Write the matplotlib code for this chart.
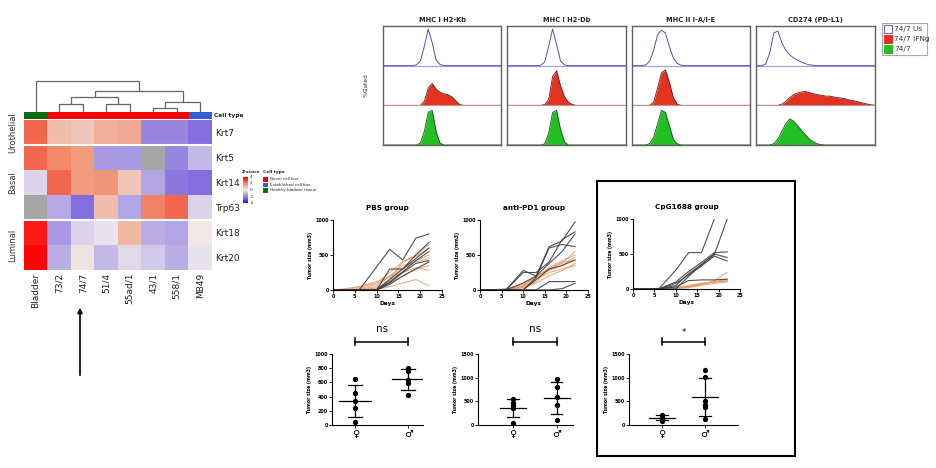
import numpy as np
import matplotlib
matplotlib.use("Agg")
import matplotlib.pyplot as plt
from matplotlib.colors import LinearSegmentedColormap
from matplotlib.patches import Rectangle

W, H = 936, 468

# ---------------- heatmap data ----------------
genes = ["Krt7", "Krt5", "Krt14", "Trp63", "Krt18", "Krt20"]
samples = ["Bladder", "73/2", "74/7", "51/4", "55ad/1", "43/1", "558/1", "MB49"]
sample_type = ["Healthy bladder tissue", "Novel cell line", "Novel cell line", "Novel cell line",
               "Novel cell line", "Novel cell line", "Novel cell line", "Established cell line"]
nan = np.nan
zscore = np.array([
    [2.5, 1.0, 0.8, 1.3, 1.4, -2.0, -2.0, -2.5],
    [2.5, 2.0, 1.7, -1.6, -1.6, nan, -2.0, -1.0],
    [-0.5, 2.5, 1.7, 1.8, 0.8, -1.4, -2.3, -2.5],
    [nan, -1.3, -2.5, 1.0, -1.4, 2.1, 2.5, -0.5],
    [3.6, -1.6, -0.5, -0.2, 1.1, -1.2, -1.4, 0.1],
    [3.9, -1.2, 0.2, -1.0, -0.4, -0.7, -1.2, -0.2],
])
gene_groups = [("Urothelial", 0, 1), ("Basal", 1, 4), ("Luminal", 4, 6)]
type_colors = {"Novel cell line": "#ff0000", "Established cell line": "#2f5fd0",
               "Healthy bladder tissue": "#0a6e12"}
# dendrogram merges (child a, child b, height); new node ids start at 8
dendro_links = [(1, 2, 8), (3, 4, 8), (5, 6, 4), (10, 7, 10), (8, 9, 15), (12, 11, 21), (0, 13, 31)]

# ---------------- flow cytometry histograms (30 bins, relative height) ----------------
markers = ["MHC I H2-Kb", "MHC I H2-Db", "MHC II I-A/I-E", "CD274 (PD-L1)"]
kb_us = [0, 0, 0, 0, 0, 0, 0, 0, 0.02, 0.12, 0.5, 0.95, 0.6, 0.15, 0.03] + [0] * 15
kb_ifng = [0, 0, 0, 0, 0, 0, 0, 0, 0, 0, 0.1, 0.45, 0.57, 0.42, 0.34, 0.3, 0.28, 0.22, 0.12, 0.02] + [0] * 10
kb_ctrl = [0, 0, 0, 0, 0, 0, 0, 0, 0, 0.05, 0.35, 0.85, 0.9, 0.35, 0.05] + [0] * 15
db_us = [0, 0, 0, 0, 0, 0, 0, 0, 0.01, 0.1, 0.5, 0.95, 0.55, 0.12, 0.02] + [0] * 15
db_ifng = [0, 0, 0, 0, 0, 0, 0, 0, 0, 0.02, 0.15, 0.75, 0.9, 0.5, 0.22, 0.08, 0.02] + [0] * 13
db_ctrl = [0, 0, 0, 0, 0, 0, 0, 0, 0, 0.03, 0.3, 0.85, 0.9, 0.4, 0.08] + [0] * 15
ia_us = [0, 0, 0, 0.02, 0.12, 0.4, 0.8, 0.92, 0.85, 0.5, 0.2, 0.06, 0.01] + [0] * 17
ia_ifng = [0, 0, 0, 0, 0, 0.08, 0.45, 0.85, 0.92, 0.6, 0.2, 0.03] + [0] * 18
ia_ctrl = [0, 0, 0, 0, 0.04, 0.2, 0.55, 0.9, 0.85, 0.5, 0.15, 0.03] + [0] * 18
pdl1_us = [0, 0, 0.05, 0.35, 0.85, 0.9, 0.6, 0.4, 0.28, 0.2, 0.14, 0.09, 0.05, 0.02, 0.01] + [0] * 15
pdl1_ifng = [0, 0, 0, 0, 0, 0, 0.03, 0.1, 0.2, 0.28, 0.32, 0.35, 0.36, 0.33, 0.3, 0.28, 0.26, 0.24,
             0.24, 0.22, 0.2, 0.19, 0.17, 0.14, 0.12, 0.1, 0.07, 0.05, 0.02, 0.01]
pdl1_ctrl = [0, 0, 0, 0, 0.04, 0.15, 0.35, 0.55, 0.68, 0.62, 0.5, 0.38, 0.26, 0.15, 0.08, 0.03, 0.01] + [0] * 13
flow_data = [(kb_us, kb_ifng, kb_ctrl), (db_us, db_ifng, db_ctrl),
             (ia_us, ia_ifng, ia_ctrl), (pdl1_us, pdl1_ifng, pdl1_ctrl)]
flow_legend = ["74/7 Us", "74/7 IFNg", "74/7"]

# ---------------- tumour growth ----------------
days = [0, 3, 6, 10, 13, 16, 19, 22]
pbs_dark = [[0, 0, 0, 330, 580, 430, 740, 800], [0, 0, 0, 0, 300, 300, 450, 600],
            [0, 0, 0, 0, 150, 300, 500, 680], [0, 0, 0, 0, 100, 250, 380, 420],
            [0, 0, 0, 0, 80, 200, 300, 400], [0, 0, 0, 0, 120, 260, 420, 550]]
pbs_orange = [[0, 0, 20, 80, 200, 350, 400, 450], [0, 10, 40, 100, 250, 400, 500, 650],
              [0, 0, 0, 30, 100, 200, 300, 350], [0, 0, 0, 0, 50, 100, 150, 60],
              [0, 20, 50, 120, 180, 250, 320, 280], [0, 0, 10, 50, 200, 300, 420, 500],
              [0, 0, 0, 20, 150, 400, 480, 600]]
pd1_dark = [[0, 0, 0, 280, 200, 620, 700, 975], [0, 0, 0, 250, 250, 400, 720, 830],
            [0, 0, 0, 0, 180, 600, 650, 620], [0, 0, 0, 100, 200, 380, 550, 800],
            [0, 0, 0, 0, 150, 300, 350, 430], [0, 0, 0, 0, 0, 120, 120, 120],
            [0, 0, 0, 0, 0, 0, 20, 95]]
pd1_orange = [[0, 0, 10, 60, 200, 300, 380, 550], [0, 0, 0, 50, 150, 250, 300, 350],
              [0, 5, 20, 80, 180, 320, 420, 500], [0, 0, 0, 30, 100, 200, 280, 380],
              [0, 0, 0, 60, 200, 280, 350, 470], [0, 0, 10, 40, 120, 300, 400, 420]]
cpg_dark = [[0, 0, 0, 270, 520, 520, 1000, nan], [0, 0, 0, 0, 180, 350, 490, 1000],
            [0, 0, 0, 100, 250, 380, 520, 530], [0, 0, 0, 50, 220, 350, 500, 450],
            [0, 0, 0, 80, 200, 330, 470, 400], [0, 0, 0, 30, 120, 130, 130, 140]]
cpg_orange = [[0, 0, 0, 10, 30, 60, 120, 240], [0, 0, 0, 20, 50, 80, 100, 140],
              [0, 0, 0, 0, 30, 80, 100, 120], [0, 0, 5, 20, 40, 70, 100, 110],
              [0, 0, 0, 10, 20, 50, 80, 100]]

# ---------------- end-point tumour size by sex ----------------
pbs_f = [643, 446, 343, 244, 38]
pbs_m = [807, 760, 634, 596, 422]
pd1_f = [540, 470, 420, 350, 40]
pd1_m = [965, 810, 585, 423, 106]
cpg_f = [220, 180, 150, 120, 90]
cpg_m = [1160, 1010, 500, 430, 380, 120]

fig = plt.figure(figsize=(W / 100, H / 100), dpi=100)


def px_axes(x0, y0, x1, y1):
    return fig.add_axes([x0 / W, 1 - y1 / H, (x1 - x0) / W, (y1 - y0) / H])


def ftext(x, y, s, **kw):
    fig.text(x / W, 1 - y / H, s, **kw)


# ================= heatmap =================
cmap = LinearSegmentedColormap.from_list(
    "zs", [(0, "#1010ff"), (0.125, "#6e56d8"), (0.25, "#9686e0"), (0.5, "#f2eeee"),
           (0.75, "#f08c6c"), (1, "#ff0000")])
cmap.set_bad("#a6a6a6")

ax = px_axes(24, 120, 212, 270)
ax.imshow(np.ma.masked_invalid(zscore), cmap=cmap, vmin=-4, vmax=4, aspect="auto",
          interpolation="nearest")
for _, a, b in gene_groups[1:]:
    ax.axhline(a - 0.5, color="white", lw=1.5)
ax.set_xticks(range(len(samples)))
ax.set_xticklabels(samples, rotation=90, fontsize=6.5, color="#222")
ax.set_yticks(range(len(genes)))
ax.set_yticklabels(genes, fontsize=6.5, color="#222")
ax.yaxis.tick_right()
ax.tick_params(length=0, pad=2)
for s in ax.spines.values():
    s.set_visible(False)
for name, a, b in gene_groups:
    yc = 120 + (a + b) / 2 * 25
    ftext(13, yc, name, rotation=90, ha="center", va="center", fontsize=6, color="#333")

# cell type bar
axc = px_axes(24, 112, 212, 119)
for i, t in enumerate(sample_type):
    axc.add_patch(Rectangle((i, 0), 1, 1, color=type_colors[t], lw=0))
axc.set_xlim(0, len(samples))
axc.set_ylim(0, 1)
axc.axis("off")
ftext(214, 115.5, "Cell type", fontsize=4.2, fontweight="bold", va="center", color="#222")

# dendrogram
axd = px_axes(24, 80, 212, 112)
pos = {i: (i + 0.5, 0) for i in range(len(samples))}
for k, (a, b, h) in enumerate(dendro_links):
    xa, ha = pos[a]
    xb, hb = pos[b]
    axd.plot([xa, xa, xb, xb], [ha, h, h, hb], color="#666", lw=0.9)
    pos[len(samples) + k] = ((xa + xb) / 2, h)
axd.set_xlim(0, len(samples))
axd.set_ylim(0, 32)
axd.axis("off")

# heatmap legends
axz = px_axes(243, 177, 248, 203)
axz.imshow(np.linspace(4, -4, 60)[:, None], cmap=cmap, vmin=-4, vmax=4, aspect="auto")
axz.axis("off")
ftext(242, 173, "Z-score", fontsize=3.2, fontweight="bold", color="#222")
for v in [4, 2, 0, -2, -4]:
    ftext(250, 177 + (4 - v) / 8 * 26, str(v), fontsize=3, va="center", color="#222")
ftext(263, 173, "Cell type", fontsize=3.2, fontweight="bold", color="#222")
for j, t in enumerate(["Novel cell line", "Established cell line", "Healthy bladder tissue"]):
    y = 177 + j * 5.5
    fig.add_artist(Rectangle((263 / W, 1 - (y + 4.5) / H), 5 / W, 4.5 / H,
                             transform=fig.transFigure, color=type_colors[t], lw=0))
    ftext(270, y + 2.3, t, fontsize=3, va="center", color="#222")

# arrow pointing to 74/7
fig.add_artist(matplotlib.patches.FancyArrowPatch(
    (80 / W, 1 - 378 / H), (80 / W, 1 - 305 / H), transform=fig.transFigure,
    arrowstyle="-|>", mutation_scale=7, color="black", lw=1.2))

# ================= flow cytometry =================
flow_boxes = [(383, 501), (507, 626), (632, 750), (756, 875)]
xb = np.concatenate([[0], (np.arange(30) + 0.5) / 30, [1]])
for (x0, x1), title, (us, ifng, ctrl) in zip(flow_boxes, markers, flow_data):
    axf = px_axes(x0, 26, x1, 145)
    hu = np.concatenate([[0], us, [0]]) * 0.97
    hi = np.concatenate([[0], ifng, [0]]) * 0.97
    hc = np.concatenate([[0], ctrl, [0]]) * 0.97
    axf.fill_between(xb, 0, hc, color="#22c022", lw=0)
    axf.plot(xb, hc, color="#1d4d1d", lw=0.6)
    axf.fill_between(xb, 1, 1 + hi, color="#e3321f", lw=0)
    axf.plot(xb, 1 + hi, color="#6a1a10", lw=0.6)
    axf.axhline(1, color="#c89090", lw=0.8)
    axf.axhline(2, color="#a0a0dc", lw=0.8)
    axf.plot(xb, 2 + hu, color="#5050c4", lw=0.7)
    axf.set_xlim(0, 1)
    axf.set_ylim(0, 3)
    axf.set_xticks([])
    axf.set_yticks([])
    for s in axf.spines.values():
        s.set_color("#606060")
        s.set_linewidth(1.0)
    ftext((x0 + x1) / 2, 20, title, fontsize=4.8, fontweight="bold", ha="center", va="center",
          color="#222")
ftext(366, 85, "%Gated", rotation=90, fontsize=4.2, ha="center", va="center", color="#333")

fig.add_artist(Rectangle((882 / W, 1 - 55 / H), 45 / W, 32 / H, transform=fig.transFigure,
                         fill=False, edgecolor="#aaaaaa", lw=0.8))
for j, (lab, fc, ec) in enumerate(zip(flow_legend, ["white", "#e3321f", "#22c022"],
                                      ["#6a6ad0", "#e3321f", "#22c022"])):
    y = 25 + j * 10
    fig.add_artist(Rectangle((884 / W, 1 - (y + 8) / H), 8 / W, 8 / H, transform=fig.transFigure,
                             facecolor=fc, edgecolor=ec, lw=0.8))
    ftext(894, y + 4, lab, fontsize=5.3, va="center", color="#333")

# ================= tumour growth curves =================
growth_panels = [("PBS group", (333, 220, 442, 290), pbs_dark, pbs_orange),
                 ("anti-PD1 group", (480, 220, 588, 290), pd1_dark, pd1_orange),
                 ("CpG1688 group", (633, 219, 740, 289), cpg_dark, cpg_orange)]


def style_small(a):
    a.spines["top"].set_visible(False)
    a.spines["right"].set_visible(False)
    for s in ["left", "bottom"]:
        a.spines[s].set_linewidth(0.8)
    a.tick_params(length=2, width=0.6, labelsize=3.5, pad=1)
    for lab in a.get_xticklabels() + a.get_yticklabels():
        lab.set_fontweight("bold")


for title, box, dark, orange in growth_panels:
    a = px_axes(*box)
    for ys in orange:
        a.plot(days, ys, color="#e39a68", lw=0.8, alpha=0.8)
    for ys in dark:
        a.plot(days, ys, color="#3c3c3c", lw=0.8, alpha=0.9)
    a.set_xlim(0, 25)
    a.set_ylim(0, 1000)
    a.set_xticks([0, 5, 10, 15, 20, 25])
    a.set_yticks([0, 500, 1000])
    a.set_title(title, fontsize=5.2, fontweight="bold", pad=7)
    a.set_xlabel("Days", fontsize=4.2, fontweight="bold", labelpad=1)
    a.set_ylabel("Tumor size (mm3)", fontsize=3.3, fontweight="bold", labelpad=2)
    style_small(a)

# ================= end-point dot plots =================
dot_panels = [((332, 354, 423, 425), (0.56, 2.28), 1000, [0, 200, 400, 600, 800, 1000],
               pbs_f, pbs_m, "ns"),
              ((478, 354, 573, 425), (0.2, 2.37), 1500, [0, 500, 1000, 1500],
               pd1_f, pd1_m, "ns"),
              ((629, 354, 738, 425), (0.23, 2.77), 1500, [0, 500, 1000, 1500],
               cpg_f, cpg_m, "*")]
for box, xl, ymax, yt, fem, mal, sig in dot_panels:
    a = px_axes(*box)
    for xpos, vals in [(1, fem), (2, mal)]:
        vals = np.array(vals, dtype=float)
        m, sd = vals.mean(), vals.std(ddof=1)
        a.plot([xpos] * len(vals), vals, "o", color="black", ms=2.8, clip_on=False)
        a.plot([xpos - 0.3, xpos + 0.3], [m, m], color="black", lw=0.9)
        a.plot([xpos, xpos], [m - sd, m + sd], color="black", lw=0.9)
        for e in (m - sd, m + sd):
            a.plot([xpos - 0.13, xpos + 0.13], [e, e], color="black", lw=0.9)
    a.set_xlim(*xl)
    a.set_ylim(0, ymax)
    a.set_yticks(yt)
    a.set_xticks([1, 2])
    a.set_xticklabels(["\u2640", "\u2642"])
    a.set_ylabel("Tumor size (mm3)", fontsize=3.3, fontweight="bold", labelpad=2)
    style_small(a)
    a.tick_params(axis="x", labelsize=7, pad=1)
    tr = a.get_xaxis_transform()
    a.plot([1, 2], [1.17, 1.17], color="black", lw=1.1, transform=tr, clip_on=False)
    for xe in (1, 2):
        a.plot([xe, xe], [1.12, 1.22], color="black", lw=1.1, transform=tr, clip_on=False)
    a.text(1.5, 1.28 if sig == "ns" else 1.24, sig, transform=tr, ha="center", va="bottom",
           fontsize=7.5 if sig == "ns" else 6)

# frame around CpG panel
fig.add_artist(Rectangle((597 / W, 1 - 456 / H), 198 / W, 275 / H, transform=fig.transFigure,
                         fill=False, edgecolor="black", lw=1.5))

fig.savefig("out.png", dpi=100, facecolor="white")
